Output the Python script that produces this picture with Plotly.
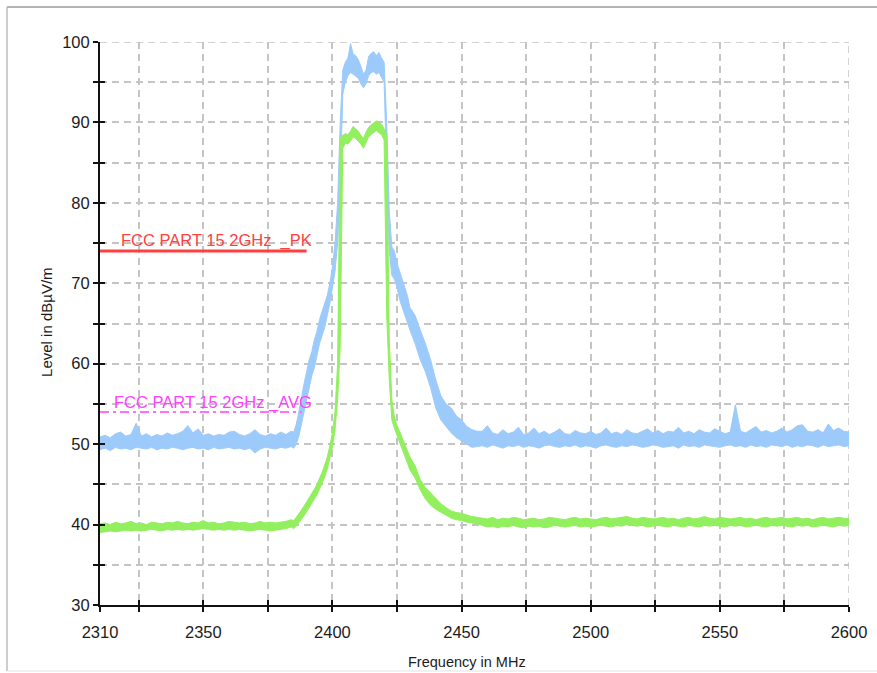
import plotly.graph_objects as go

# ---------------- data ----------------
freq_left = list(range(2310, 2386, 2))     # 2310..2384
freq_mid = list(range(2385, 2431, 1))      # 2385..2430
freq_right = list(range(2432, 2601, 2))    # 2432..2600
freq = freq_left + freq_mid + freq_right

# Peak trace (blue): upper / lower envelope of the noise band
peak_hi_left = [50.9, 51.1, 50.8, 51.3, 51.5, 51.0, 51.2, 52.6, 51.0, 51.3, 50.9, 51.2, 51.0, 51.4, 51.1, 51.3,
                51.6, 52.3, 51.4, 51.9, 51.1, 51.3, 51.0, 51.2, 51.1, 51.5, 51.6, 51.2, 51.0, 51.3, 51.8, 51.2,
                51.0, 51.3, 51.1, 51.5, 51.2, 51.6]
peak_lo_left = [49.3, 49.5, 49.2, 49.6, 49.4, 49.5, 49.3, 49.6, 49.5, 49.4, 49.6, 49.3, 49.5, 49.4, 49.6, 49.5,
                49.3, 49.5, 49.6, 49.4, 49.5, 49.3, 49.6, 49.4, 49.5, 49.6, 49.4, 49.5, 49.3, 49.5, 48.9, 49.4,
                49.6, 49.5, 49.4, 49.6, 49.5, 49.7]
peak_hi_mid = [51.5, 52.5, 54.0, 56.0, 57.5, 59.0, 60.5, 61.5, 63.0, 64.0, 65.5, 66.5, 67.5, 68.5, 70.0, 72.0,
               75.0, 80.0, 90.0, 96.5, 97.5, 98.0, 99.8, 98.5, 98.3, 97.8, 97.0, 96.0, 96.5, 98.2, 98.6, 98.8,
               98.3, 98.7, 98.0, 97.5, 90.0, 79.0, 74.5, 74.0, 72.5, 71.5, 70.5, 69.5, 68.5, 67.0]
peak_lo_mid = [49.5, 50.0, 51.0, 52.5, 54.0, 55.5, 57.0, 58.5, 59.5, 61.0, 62.5, 63.5, 64.5, 66.0, 67.5, 69.5,
               71.5, 75.0, 82.0, 93.5, 95.0, 95.8, 96.2, 96.0, 95.8, 95.5, 94.8, 94.3, 94.8, 95.8, 96.2, 96.3,
               96.0, 96.2, 95.6, 95.0, 84.0, 74.0, 71.0, 70.5, 69.5, 68.0, 67.0, 66.0, 65.0, 64.2]
peak_hi_right = [66.0, 64.2, 62.5, 60.5, 58.0, 56.0, 55.0, 54.5, 53.5, 53.0, 52.2, 51.8, 51.6,
                 51.6, 52.3, 51.4, 51.2, 51.8, 51.3, 51.5, 52.1, 51.2, 51.4, 52.0, 51.3, 51.6, 51.2, 51.5, 51.9,
                 51.3, 51.2, 51.7, 51.4, 51.3, 51.6, 51.2, 51.4, 52.0, 51.3, 51.5, 51.2, 51.8, 51.4, 51.3, 51.6,
                 51.9, 51.4, 51.7, 51.3, 51.6, 51.5, 52.1, 51.4, 51.6, 51.3, 51.8, 51.5, 51.4, 51.9, 51.6, 51.3,
                 51.5, 54.9, 51.6, 51.4, 51.8, 52.2, 51.5, 51.7, 51.4, 51.6, 52.0, 51.5, 51.8, 52.3, 52.4, 51.6,
                 51.5, 51.8, 51.4, 52.5, 51.7, 52.0, 51.6, 51.5]
peak_lo_right = [62.5, 60.5, 59.0, 57.0, 54.5, 53.0, 52.2, 51.4, 50.8, 50.4, 49.9, 49.6, 49.7,
                 49.8, 49.6, 49.9, 49.7, 49.5, 49.8, 49.7, 49.9, 49.6, 49.8,
                 49.7, 49.5, 49.8, 49.9, 49.7, 49.6, 49.8, 49.7, 49.9, 49.6,
                 49.8, 49.7, 49.5, 49.8, 49.9, 49.7, 49.6, 49.8, 49.7, 49.9,
                 49.8, 49.6, 49.7, 49.9, 49.8, 49.6, 49.7, 49.8, 49.5, 49.9,
                 49.7, 49.8, 49.6, 49.9, 49.8, 49.7, 49.6, 49.8, 49.9, 49.7,
                 49.8, 49.6, 49.9, 49.7, 49.8, 49.6, 49.9, 49.8, 49.7, 49.9,
                 49.6, 49.8, 49.7, 49.9, 49.8, 49.6, 49.9, 49.7, 49.8, 49.9,
                 49.7, 49.8]

# Average trace (green): upper / lower envelope of the noise band
avg_hi_left = [40.1, 40.2, 40.0, 40.3, 40.1, 40.2, 40.4, 40.1, 40.2, 40.0, 40.3, 40.2, 40.1, 40.3, 40.2, 40.4,
               40.2, 40.1, 40.3, 40.2, 40.5, 40.2, 40.3, 40.1, 40.2, 40.4, 40.3, 40.2, 40.3, 40.1, 40.2, 40.4,
               40.2, 40.3, 40.2, 40.3, 40.4, 40.6]
avg_lo_left = [39.0, 39.1, 39.2, 39.1, 39.2, 39.3, 39.2, 39.3, 39.2, 39.3, 39.4, 39.3, 39.2, 39.4, 39.3, 39.4,
               39.3, 39.4, 39.3, 39.4, 39.5, 39.4, 39.3, 39.4, 39.3, 39.4, 39.3, 39.4, 39.3, 39.2, 39.3, 39.4,
               39.3, 39.2, 39.3, 39.4, 39.5, 39.7]
avg_hi_mid = [40.5, 40.9, 41.3, 41.8, 42.3, 42.8, 43.3, 43.8, 44.4, 45.0, 45.7, 46.5, 47.4, 48.4, 49.8, 51.5,
              54.0, 60.0, 88.0, 88.4, 88.6, 88.5, 88.9, 89.5, 89.2, 88.9, 88.4, 88.0, 88.8, 89.4, 89.7, 90.0,
              90.2, 89.9, 89.8, 89.2, 88.5, 63.0, 55.5, 53.4, 52.3, 51.6, 50.8, 50.0, 49.2, 48.4]
avg_lo_mid = [39.5, 39.8, 40.2, 40.6, 41.1, 41.6, 42.1, 42.6, 43.1, 43.7, 44.4, 45.1, 45.9, 46.9, 48.1, 49.6,
              51.8, 55.5, 62.0, 86.8, 87.4, 87.3, 87.7, 88.2, 88.0, 87.7, 87.3, 86.8, 87.5, 88.2, 88.5, 88.8,
              89.0, 88.7, 88.5, 87.8, 66.0, 58.0, 53.0, 52.0, 51.0, 50.2, 49.4, 48.6, 47.7, 46.8]
avg_hi_right = [47.3, 45.6, 44.6, 43.9, 43.2, 42.6, 42.1, 41.7, 41.5, 41.4, 41.2, 41.0, 40.9,
                40.8, 40.7, 40.9, 40.6, 40.8, 40.7, 40.9, 40.8, 40.6, 40.7,
                40.8, 40.6, 40.7, 40.9, 40.8, 40.7, 40.6, 40.8, 40.9, 40.7,
                40.8, 40.7, 40.6, 40.8, 40.9, 40.7, 40.8, 40.9, 41.0, 40.8,
                40.7, 40.9, 40.8, 40.7, 40.8, 40.9, 40.7, 40.8, 40.6, 40.8,
                40.9, 40.7, 40.8, 41.0, 40.8, 40.7, 40.9, 40.8, 40.7, 40.8,
                40.9, 40.7, 40.8, 40.6, 40.8, 40.9, 40.7, 40.8, 40.9, 40.7,
                40.8, 40.9, 40.7, 40.8, 40.6, 40.8, 40.9, 40.7, 40.8, 40.9,
                40.8, 40.7]
avg_lo_right = [45.8, 44.3, 43.2, 42.4, 41.9, 41.5, 41.1, 40.8, 40.6, 40.5, 40.3, 40.2, 40.1,
                39.9, 39.7, 39.8, 39.6, 39.8, 39.7, 39.9, 39.7, 39.6, 39.8,
                39.7, 39.8, 39.6, 39.7, 39.9, 39.8, 39.7, 39.8, 39.9, 39.7,
                39.8, 39.7, 39.8, 39.9, 39.8, 39.7, 39.9, 39.8, 40.0, 39.9,
                39.8, 39.9, 39.7, 39.8, 39.9, 39.8, 39.7, 39.9, 39.8, 39.7,
                39.9, 39.8, 39.7, 39.9, 39.8, 39.9, 39.8, 39.7, 39.9, 39.8,
                39.9, 39.7, 39.8, 39.9, 39.8, 39.7, 39.9, 39.8, 39.9, 39.8,
                39.7, 39.9, 39.8, 39.9, 39.7, 39.8, 39.9, 39.8, 39.7, 39.9,
                39.8, 39.9]

peak_hi = peak_hi_left + peak_hi_mid + peak_hi_right
peak_lo = peak_lo_left + peak_lo_mid + peak_lo_right
avg_hi = avg_hi_left + avg_hi_mid + avg_hi_right
avg_lo = avg_lo_left + avg_lo_mid + avg_lo_right
for arr in (peak_hi, peak_lo, avg_hi, avg_lo):
    assert len(arr) == len(freq), (len(arr), len(freq))

# Limit lines
pk_limit_name = "FCC PART 15 2GHz&nbsp; _PK"
avg_limit_name = "FCC PART 15 2GHz _AVG"
pk_limit_freq = [2310, 2390]
pk_limit_val = [74, 74]
avg_limit_freq = [2310, 2388]
avg_limit_val = [54, 54]

# Axes
x_range = [2310, 2600]
y_range = [30, 100]
x_tick_vals = [2310, 2325, 2350, 2375, 2400, 2425, 2450, 2475, 2500, 2525, 2550, 2575, 2600]
x_tick_text = ["2310", "", "2350", "", "2400", "", "2450", "", "2500", "", "2550", "", "2600"]
y_tick_vals = [30, 35, 40, 45, 50, 55, 60, 65, 70, 75, 80, 85, 90, 95, 100]
y_tick_text = ["30", "", "40", "", "50", "", "60", "", "70", "", "80", "", "90", "", "100"]
x_title = "Frequency in MHz"
y_title = "Level in dBµV/m"

# ---------------- styling ----------------
BLUE = "#9ccbfb"
GREEN = "#92ef5e"
PK_RED = "#ff4040"
AVG_MAG = "#ff40ff"
GRID = "#c4c4c4"
FONT = "Liberation Sans, Arial, sans-serif"

fig = go.Figure()

fig.add_trace(go.Scatter(x=freq, y=peak_lo, mode="lines", line=dict(color=BLUE, width=1),
                         showlegend=False, hoverinfo="skip"))
fig.add_trace(go.Scatter(x=freq, y=peak_hi, mode="lines", line=dict(color=BLUE, width=1),
                         fill="tonexty", fillcolor=BLUE, showlegend=False, hoverinfo="skip"))
fig.add_trace(go.Scatter(x=freq, y=avg_lo, mode="lines", line=dict(color=GREEN, width=1),
                         showlegend=False, hoverinfo="skip"))
fig.add_trace(go.Scatter(x=freq, y=avg_hi, mode="lines", line=dict(color=GREEN, width=1),
                         fill="tonexty", fillcolor=GREEN, showlegend=False, hoverinfo="skip"))

fig.add_trace(go.Scatter(x=pk_limit_freq, y=pk_limit_val, mode="lines", xaxis="x2", yaxis="y2",
                         line=dict(color=PK_RED, width=3), showlegend=False, hoverinfo="skip"))
fig.add_trace(go.Scatter(x=avg_limit_freq, y=avg_limit_val, mode="lines", xaxis="x2", yaxis="y2",
                         line=dict(color=AVG_MAG, width=1.5, dash="9px,4px,3px,4px"),
                         showlegend=False, hoverinfo="skip"))

axis_common = dict(showline=True, linecolor="#111111", linewidth=2, ticks="outside", ticklen=5,
                   tickwidth=2, tickcolor="#111111", showgrid=True, gridcolor=GRID, gridwidth=1.5,
                   griddash="7px,5px", zeroline=False, automargin=False,
                   tickfont=dict(family=FONT, size=16.5, color="#1c1c1c"))

fig.update_layout(
    width=877, height=673,
    margin=dict(l=100, r=28, t=42, b=68, autoexpand=False),
    paper_bgcolor="white", plot_bgcolor="white",
    font=dict(family=FONT, size=14, color="#1c1c1c"),
    xaxis=dict(range=x_range, tickmode="array", tickvals=x_tick_vals, ticktext=x_tick_text,
               ticklabelstandoff=6, **axis_common),
    yaxis=dict(range=y_range, tickmode="array", tickvals=y_tick_vals, ticktext=y_tick_text,
               **axis_common),
    xaxis2=dict(range=x_range, overlaying="x", anchor="y2", side="bottom", tickmode="array",
                tickvals=x_tick_vals, ticks="inside", ticklen=5, tickwidth=2, tickcolor="#111111",
                showticklabels=False, showgrid=False, showline=False, zeroline=False, automargin=False),
    yaxis2=dict(range=y_range, overlaying="y", anchor="x2", side="left", tickmode="array",
                tickvals=y_tick_vals, ticks="inside", ticklen=5, tickwidth=2, tickcolor="#111111",
                showticklabels=False, showgrid=False, showline=False, zeroline=False, automargin=False),
    showlegend=False,
)

# edge grid lines (top and right)
fig.add_shape(type="line", xref="x", yref="y", x0=x_range[0], x1=x_range[1], y0=y_range[1], y1=y_range[1],
              line=dict(color=GRID, width=1.5, dash="7px,5px"), layer="below")
fig.add_shape(type="line", xref="x", yref="y", x0=x_range[1], x1=x_range[1], y0=y_range[0], y1=y_range[1],
              line=dict(color=GRID, width=1.5, dash="7px,5px"), layer="below")
# outer frame (top, left, bottom; the right edge lies outside the window)
frame_l, frame_r, frame_b, frame_t = -0.1242, 1.2, -0.1172, 1.0622
fig.add_shape(type="line", xref="paper", yref="paper", x0=frame_l, x1=frame_r, y0=frame_t, y1=frame_t,
              line=dict(color="#b4b4b4", width=2))
fig.add_shape(type="line", xref="paper", yref="paper", x0=frame_l, x1=frame_l, y0=frame_b, y1=frame_t,
              line=dict(color="#bdbdbd", width=1.5))
fig.add_shape(type="line", xref="paper", yref="paper", x0=frame_l, x1=frame_r, y0=frame_b, y1=frame_b,
              line=dict(color="#e2e2e2", width=1))

# limit labels
fig.add_annotation(x=2393, y=74, xref="x", yref="y", text=pk_limit_name, showarrow=False,
                   xanchor="right", yanchor="bottom", yshift=-1,
                   font=dict(family=FONT, size=16.5, color=PK_RED))
fig.add_annotation(x=2393, y=54, xref="x", yref="y", text=avg_limit_name, showarrow=False,
                   xanchor="right", yanchor="bottom", yshift=-2,
                   font=dict(family=FONT, size=16.5, color=AVG_MAG))

# axis titles
fig.add_annotation(x=0.49, y=-0.1012, xref="paper", yref="paper", text=x_title, showarrow=False,
                   xanchor="center", yanchor="middle", font=dict(family=FONT, size=14.5, color="#1c1c1c"))
fig.add_annotation(x=-0.0708, y=0.5027, xref="paper", yref="paper", text=y_title, showarrow=False,
                   textangle=-90, xanchor="center", yanchor="middle",
                   font=dict(family=FONT, size=15, color="#1c1c1c"))

fig.write_html(
    "out.html",
    config={"displayModeBar": False},
    post_script="document.body.style.margin='0';document.body.style.overflow='hidden';",
)
